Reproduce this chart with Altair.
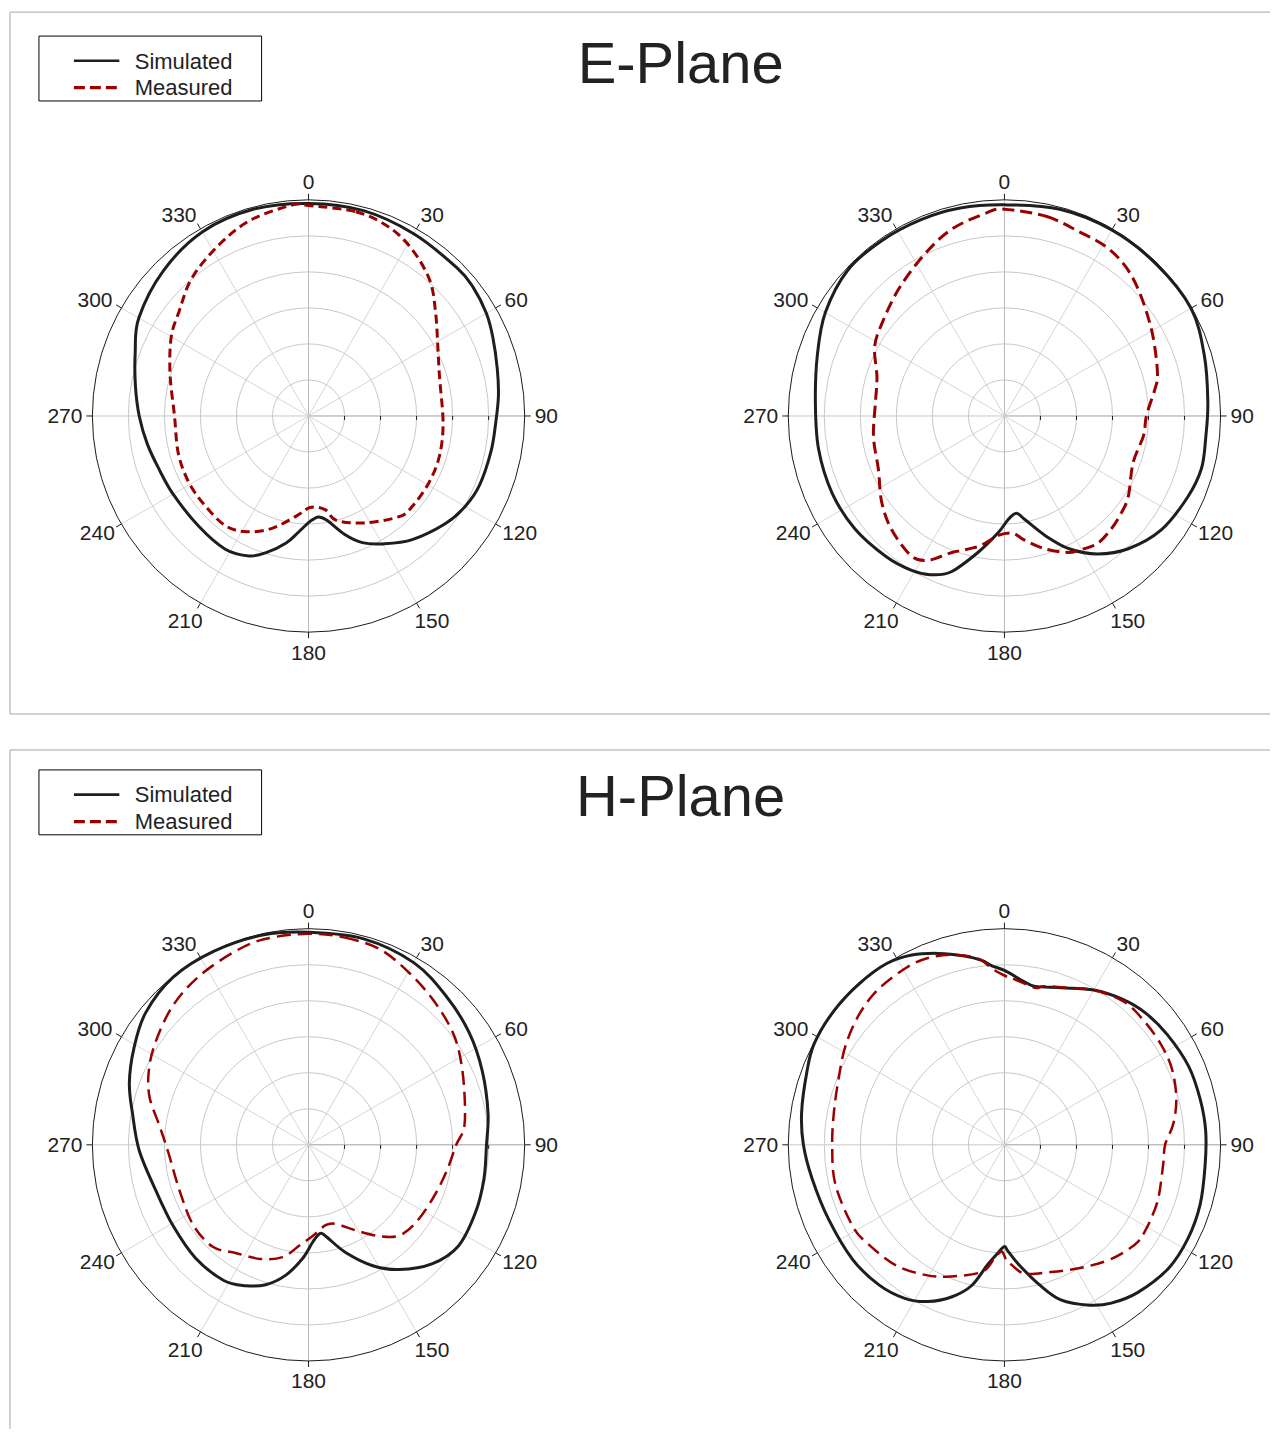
import math
import altair as alt
import pandas as pd

# ---------------- data: gain in dB (outer ring = 0 dB, centre = -30 dB) ----------------
E_LEFT_SIM_ANG = [0, 15, 30, 45, 52, 60, 67, 76, 84, 92, 101, 112, 120, 128, 140, 150, 157, 163, 170, 174,
                  177, 180, 185, 190, 197, 203, 212, 225, 240, 250, 260, 270, 280, 290, 300, 315, 330, 345]
E_LEFT_SIM_DB = [-0.5, -0.5, -0.8, -0.9, -1.0, -1.5, -2.2, -3.0, -3.5, -4.0, -4.2, -4.4, -4.9, -5.8, -7.6, -9.5, -10.9, -12.8, -15.3, -15.9,
                 -15.7, -15.2, -13.8, -12.1, -10.2, -8.9, -8.2, -8.4, -8.3, -8.0, -7.3, -6.5, -5.6, -4.4, -2.8, -1.5, -0.5, -0.3]

E_LEFT_MEAS_ANG = [0, 13, 23, 32, 42, 51, 61, 73, 93, 107, 119, 131, 138, 152, 165, 170, 179, 187, 198, 208,
                   217, 229, 241, 254, 270, 287, 300, 309, 320, 333, 344, 356]
E_LEFT_MEAS_DB = [-0.8, -0.9, -1.5, -2.8, -4.8, -7.3, -9.5, -11.0, -11.3, -11.0, -10.9, -10.9, -11.2, -13.2, -15.0, -16.8, -17.3, -16.0, -13.6, -11.8,
                  -10.9, -11.0, -11.0, -11.2, -11.4, -9.9, -8.0, -6.9, -4.9, -3.1, -1.6, -0.6]

E_RIGHT_SIM_ANG = [0, 15, 30, 45, 60, 73, 86, 96, 105, 114, 126, 137, 146, 154, 161, 169, 173, 178, 183, 191,
                   199, 205, 211, 220, 233, 246, 260, 274, 288, 300, 313, 325, 337, 348]
E_RIGHT_SIM_DB = [-0.7, -0.3, -0.2, -0.2, -0.1, -1.0, -1.7, -1.9, -1.7, -2.2, -3.1, -4.8, -6.9, -9.5, -12.4, -15.4, -16.4, -15.6, -13.8, -10.7,
                  -7.1, -5.7, -5.0, -4.5, -4.0, -3.8, -3.8, -3.7, -2.7, -1.3, -0.3, -0.3, -0.4, -0.5]

E_RIGHT_MEAS_ANG = [0, 12, 22, 31, 39, 47, 57, 65, 75, 80, 90, 98, 110, 123, 130, 137, 144, 151, 155, 163,
                    171, 176, 183, 191, 201, 208, 214, 225, 235, 247, 261, 276, 287, 298, 307, 320, 333, 344, 355]
E_RIGHT_MEAS_DB = [-1.3, -1.7, -2.4, -2.6, -3.3, -4.5, -6.0, -7.0, -8.0, -8.8, -10.3, -10.5, -11.0, -9.5, -8.9, -8.4, -8.1, -8.7, -9.1, -10.7,
                   -12.6, -13.7, -13.4, -11.6, -9.7, -7.3, -6.7, -7.8, -9.2, -11.0, -11.6, -12.0, -11.5, -9.6, -8.7, -7.1, -5.1, -3.1, -1.7]

H_LEFT_SIM_ANG = [0, 15, 30, 43, 55, 67, 80, 90, 101, 112, 124, 134, 144, 152, 161, 169, 172.5, 177.5, 183, 190,
                  197, 204, 212, 225, 239, 253, 268, 280, 289, 299, 309, 321, 334, 348]
H_LEFT_SIM_DB = [-0.5, -0.4, -0.8, -1.9, -2.8, -3.8, -4.7, -5.3, -5.2, -5.0, -4.9, -6.2, -8.6, -11.0, -14.2, -17.0, -17.6, -16.5, -14.2, -11.6,
                 -9.7, -8.6, -7.8, -7.8, -8.1, -7.9, -6.5, -5.2, -3.7, -2.3, -0.9, -0.1, -0.1, -0.2]

H_LEFT_MEAS_ANG = [0, 10, 20, 30, 40, 50, 58, 69, 83, 90, 101, 113, 126, 135, 142, 151, 161, 168, 177, 185,
                   193, 203, 214, 223, 235, 250, 267, 277, 287, 296, 305, 316, 327, 339, 348]
H_LEFT_MEAS_DB = [-0.7, -0.8, -1.1, -2.3, -3.4, -4.4, -5.4, -6.9, -8.2, -9.5, -10.5, -11.2, -11.6, -12.2, -13.9, -16.4, -18.4, -18.6, -17.4, -16.0,
                  -14.0, -12.8, -11.9, -10.6, -10.5, -11.0, -10.5, -9.2, -6.9, -5.4, -4.3, -3.0, -2.1, -1.3, -0.8]

H_RIGHT_SIM_ANG = [0, 7, 11, 20, 30, 39, 47, 56, 67, 77, 86, 96, 107, 117, 127, 138, 146, 152, 160, 166,
                   173, 178, 180, 183, 188, 193, 199, 206, 213, 222, 233, 247, 260, 270, 279, 290, 298, 308, 318, 327,
                   334, 341, 348, 353, 356]
H_RIGHT_SIM_DB = [-5.8, -7.2, -7.6, -6.8, -5.2, -4.0, -3.2, -2.7, -2.2, -2.1, -2.0, -2.0, -1.6, -1.4, -1.5, -2.4, -3.5, -4.8, -7.1, -10.0,
                  -13.2, -15.2, -15.9, -15.1, -13.2, -10.0, -7.7, -5.8, -4.6, -3.9, -3.6, -3.5, -2.9, -2.1, -1.5, -0.8, -0.1, 0.1, 0.1, 0.0,
                  -0.7, -1.9, -3.2, -4.2, -5.1]

H_RIGHT_MEAS_ANG = [0, 3, 11, 14, 22, 30, 40, 49, 58, 66, 75, 83, 90, 97, 109, 117, 122, 126, 132, 139,
                    149, 160, 171, 176.5, 179, 181.5, 185, 190, 202, 211, 222, 234, 242, 257, 270, 281, 292, 302, 312, 321,
                    331, 338, 345, 352, 356]
H_RIGHT_MEAS_DB = [-6.5, -6.9, -7.8, -7.3, -6.5, -5.2, -4.1, -4.1, -4.2, -4.5, -5.3, -6.4, -7.7, -7.8, -7.4, -7.2, -7.1, -7.1, -7.7, -8.6,
                   -10.0, -11.2, -11.9, -13.3, -14.0, -15.2, -14.2, -12.1, -10.3, -8.9, -7.5, -6.6, -6.1, -5.9, -6.1, -5.9, -5.2, -4.0, -2.9, -2.2,
                   -1.9, -2.0, -2.7, -3.9, -5.5]

RING_DB = [-25, -20, -15, -10, -5]
ANGLE_TICKS = [0, 30, 60, 90, 120, 150, 180, 210, 240, 270, 300, 330]
ANGLE_LABELS = [str(a) for a in ANGLE_TICKS]
TITLES = ["E-Plane", "H-Plane"]
SERIES = ["Simulated", "Measured"]

# ---------------- layout / style ----------------
R = 216.5          # outer radius in px
TICK_LEN = 6
DB_MIN = -30.0
PANEL_W = 1262
FONT = "Liberation Sans"
TXT = "#222222"
SIM_COLOR = "#1e1e1e"
MEAS_COLOR = "#990000"
LABEL_SIZE = 21
# label placement relative to the end of each outer tick: extra horizontal gap and vertical shift
LABEL_GAP = {0: 0, 30: 1, 60: 3.7, 90: 4, 120: 1.3, 150: -5.2, 180: 0}
LABEL_DY = {0: -12, 30: -8.8, 60: -5.3, 90: 0, 120: 5.3, 150: 11.8, 180: 14}


def rpx(db):
    return (db - DB_MIN) / (0.0 - DB_MIN) * R


PANELS = [
    dict(title=TITLES[0], origin=(10, 12), h=703, shift=0,
         centers=[(309, 416.5), (1006, 416.5)], bottom_border=True,
         curves=[[(E_LEFT_SIM_ANG, E_LEFT_SIM_DB), (E_LEFT_MEAS_ANG, E_LEFT_MEAS_DB)],
                 [(E_RIGHT_SIM_ANG, E_RIGHT_SIM_DB), (E_RIGHT_MEAS_ANG, E_RIGHT_MEAS_DB)]],
         meas_width=3.0, meas_dash=[[9, 5], [12, 6]]),
    dict(title=TITLES[1], origin=(10, 750), h=680, shift=734,
         centers=[(309, 1145.5), (1006, 1145.5)], bottom_border=False,
         curves=[[(H_LEFT_SIM_ANG, H_LEFT_SIM_DB), (H_LEFT_MEAS_ANG, H_LEFT_MEAS_DB)],
                 [(H_RIGHT_SIM_ANG, H_RIGHT_SIM_DB), (H_RIGHT_MEAS_ANG, H_RIGHT_MEAS_DB)]],
         meas_width=2.5, meas_dash=[[14, 7], [14, 7]]),
]


def sgn(v):
    if abs(v) < 1e-9:
        return 0
    return 1 if v > 0 else -1


def build_panel(p):
    ox, oy = p["origin"]
    W, H = PANEL_W, p["h"]
    sh = p["shift"]
    xs = alt.Scale(domain=[0, W], nice=False, zero=False)
    ys = alt.Scale(domain=[0, H], nice=False, zero=False, reverse=True)

    def X(f="x"):
        return alt.X(f"{f}:Q", scale=xs, axis=None)

    def Y(f="y"):
        return alt.Y(f"{f}:Q", scale=ys, axis=None)

    def rules(df, **kw):
        return alt.Chart(df).mark_rule(**kw).encode(
            x=X(), y=Y(), x2=alt.X2("x2"), y2=alt.Y2("y2"),
            color=alt.Color("c:N", scale=None))

    layers = []

    # panel border (top, left, bottom)
    b = [dict(x=0, y=0, x2=W, y2=0, c="#a6a6a6"), dict(x=0, y=0, x2=0, y2=H, c="#a6a6a6")]
    if p["bottom_border"]:
        b.append(dict(x=0, y=H, x2=W, y2=H, c="#a6a6a6"))
    layers.append(rules(pd.DataFrame(b), strokeWidth=1))

    # title
    tdf = pd.DataFrame([dict(x=681.7 - ox, y=82.5 + sh - oy, t=p["title"])])
    layers.append(alt.Chart(tdf).mark_text(fontSize=58, font=FONT, color=TXT, align="center",
                                           baseline="alphabetic").encode(x=X(), y=Y(), text="t:N"))

    # legend
    box = pd.DataFrame([dict(x=39 - ox, x2=262 - ox, y=36 + sh - oy, y2=101 + sh - oy)])
    layers.append(alt.Chart(box).mark_rect(fill="white", stroke="black", strokeWidth=1).encode(
        x=X(), x2=alt.X2("x2"), y=Y(), y2=alt.Y2("y2")))
    l_sim = pd.DataFrame([dict(x=74 - ox, x2=119.5 - ox, y=60.7 + sh - oy, y2=60.7 + sh - oy, c=SIM_COLOR)])
    l_meas = pd.DataFrame([dict(x=74 - ox, x2=119.5 - ox, y=87.7 + sh - oy, y2=87.7 + sh - oy, c=MEAS_COLOR)])
    layers.append(rules(l_sim, strokeWidth=2.6))
    layers.append(rules(l_meas, strokeWidth=3.2, strokeDash=[11, 5]))
    ltxt = pd.DataFrame([dict(x=135 - ox, y=68.5 + sh - oy, t=SERIES[0]),
                         dict(x=135 - ox, y=95.3 + sh - oy, t=SERIES[1])])
    layers.append(alt.Chart(ltxt).mark_text(fontSize=22, font=FONT, color=TXT, align="left",
                                            baseline="alphabetic").encode(x=X(), y=Y(), text="t:N"))

    for j, (cxp, cyp) in enumerate(p["centers"]):
        cx, cy = cxp - ox, cyp - oy
        # spokes
        sp = []
        for a in ANGLE_TICKS:
            t = math.radians(a)
            col = "#d6d6d6"
            if a in (0, 180):
                col = "#b8b8b8"
            elif a == 90:
                col = "#a0a0a0"
            elif a == 270:
                col = "#c8c8c8"
            sp.append(dict(x=cx, y=cy, x2=cx + R * math.sin(t), y2=cy - R * math.cos(t), c=col))
        layers.append(rules(pd.DataFrame(sp), strokeWidth=1))
        # rings
        rg = [dict(x=cx, y=cy, s=(2 * rpx(d)) ** 2, c="#c8c8c8") for d in RING_DB]
        rg.append(dict(x=cx, y=cy, s=(2 * R) ** 2, c="#1a1a1a"))
        layers.append(alt.Chart(pd.DataFrame(rg)).mark_point(shape="circle", filled=False, opacity=1,
                                                             strokeWidth=1).encode(
            x=X(), y=Y(), size=alt.Size("s:Q", scale=None), color=alt.Color("c:N", scale=None)))
        # outer ticks
        tk = []
        for a in ANGLE_TICKS:
            t = math.radians(a)
            tk.append(dict(x=cx + R * math.sin(t), y=cy - R * math.cos(t),
                           x2=cx + (R + TICK_LEN) * math.sin(t), y2=cy - (R + TICK_LEN) * math.cos(t),
                           c="#1a1a1a"))
        # radial axis ticks
        for d in RING_DB:
            tk.append(dict(x=cx + rpx(d), y=cy, x2=cx + rpx(d), y2=cy + 4, c="#1a1a1a"))
        layers.append(rules(pd.DataFrame(tk), strokeWidth=1))
        # angle labels
        lb = []
        h = 0.716 * LABEL_SIZE
        for a, s in zip(ANGLE_TICKS, ANGLE_LABELS):
            t = math.radians(a)
            st, ct = math.sin(t), math.cos(t)
            key = a if a <= 180 else 360 - a
            w = 0.556 * LABEL_SIZE * len(s)
            ex, ey = cx + (R + TICK_LEN) * st, cy - (R + TICK_LEN) * ct
            lx = ex + sgn(st) * (w / 2 + LABEL_GAP[key])
            ly = ey + LABEL_DY[key]
            lb.append(dict(x=lx, y=ly + h / 2, t=s))
        layers.append(alt.Chart(pd.DataFrame(lb)).mark_text(fontSize=LABEL_SIZE, font=FONT, color=TXT,
                                                            align="center", baseline="alphabetic").encode(
            x=X(), y=Y(), text="t:N"))
        # curves
        for k, (angs, dbs) in enumerate(p["curves"][j]):
            rows = []
            for i, (a, d) in enumerate(zip(angs, dbs)):
                t = math.radians(a)
                r = rpx(d)
                rows.append(dict(x=cx + r * math.sin(t), y=cy - r * math.cos(t), i=i))
            df = pd.DataFrame(rows)
            if k == 0:
                m = alt.Chart(df).mark_line(interpolate="cardinal-closed", color=SIM_COLOR, strokeWidth=3)
            else:
                m = alt.Chart(df).mark_line(interpolate="cardinal-closed", color=MEAS_COLOR,
                                            strokeWidth=p["meas_width"], strokeDash=p["meas_dash"][j])
            layers.append(m.encode(x=X(), y=Y(), order=alt.Order("i:Q")))

    return alt.layer(*layers).properties(width=W, height=H)


top = build_panel(PANELS[0])
bottom = build_panel(PANELS[1])

chart = alt.vconcat(top, bottom, spacing=34).properties(
    padding={"left": 1, "top": 2, "right": 0, "bottom": 0}
).configure_view(strokeWidth=0)

chart.save("out.html", embed_options={"renderer": "svg", "actions": False})
